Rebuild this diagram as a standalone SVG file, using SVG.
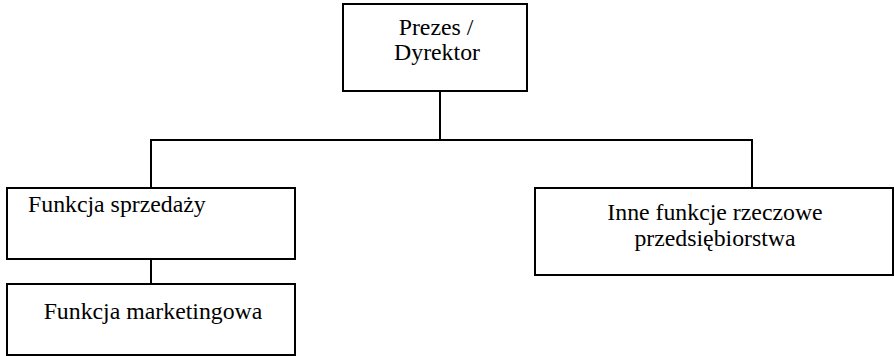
<svg xmlns="http://www.w3.org/2000/svg" width="895" height="356" viewBox="0 0 895 356">
<style>
.box{fill:#fff;stroke:#000;stroke-width:2}
.conn{fill:none;stroke:#000;stroke-width:2}
.t{font-family:'Liberation Serif', 'Times New Roman', serif;font-size:23.8px;fill:#000}
</style>
<rect width="895" height="356" fill="#fff"/>
<g id="connectors">
<line class="conn" x1="440" y1="91" x2="440" y2="140"/>
<polyline class="conn" points="151,188 151,140 752,140 752,188"/>
<line class="conn" x1="151" y1="259" x2="151" y2="284"/>
</g>
<g id="prezes">
<rect class="box" x="343" y="4" width="184" height="87"/>
<text class="t" x="436" y="35" text-anchor="middle">Prezes /</text>
<text class="t" x="437" y="60" text-anchor="middle">Dyrektor</text>
</g>
<g id="sprzedaz">
<rect class="box" x="7" y="188" width="288" height="71"/>
<text class="t" x="28" y="212">Funkcja sprzedaży</text>
</g>
<g id="marketing">
<rect class="box" x="7" y="284" width="288" height="71"/>
<text class="t" x="153" y="319" text-anchor="middle">Funkcja marketingowa</text>
</g>
<g id="inne">
<rect class="box" x="535" y="188" width="358" height="87"/>
<text class="t" x="715" y="220" text-anchor="middle">Inne funkcje rzeczowe</text>
<text class="t" x="715" y="246" text-anchor="middle">przedsiębiorstwa</text>
</g>
</svg>
